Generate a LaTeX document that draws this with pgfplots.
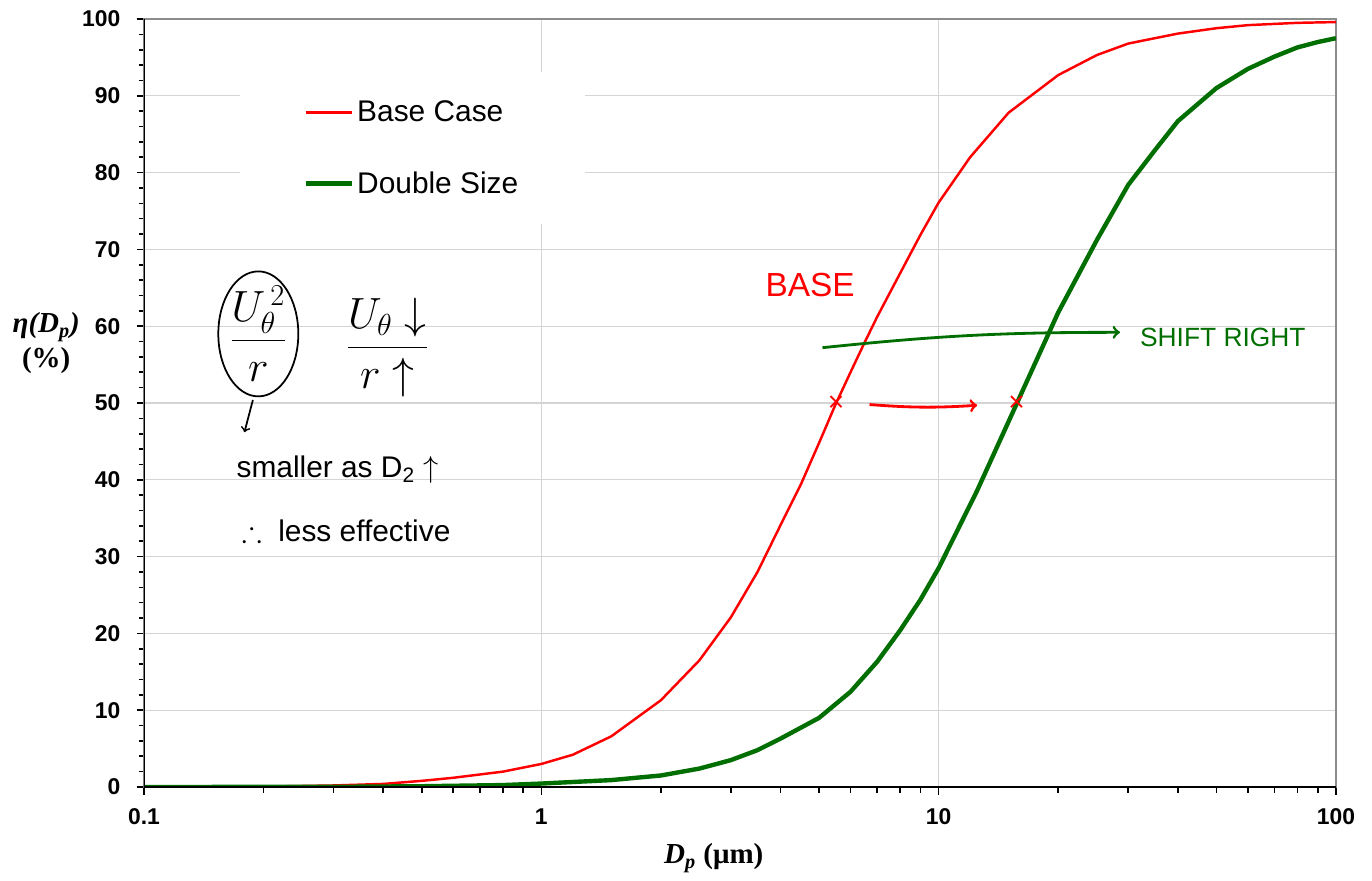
\documentclass[border=0pt]{standalone}
\usepackage{amssymb}
\usepackage{fontspec}
\setmainfont{Liberation Sans}
\newfontfamily\serif{Liberation Serif}
\usepackage{pgfplots}
\pgfplotsset{compat=1.18}
\definecolor{dgreen}{RGB}{0,110,0}
\definecolor{gridgray}{RGB}{212,212,212}
\definecolor{framegray}{RGB}{140,140,140}

\begin{document}
\begin{tikzpicture}
\useasboundingbox (-2.88,-1.86) rectangle (24.56,15.74);
\begin{axis}[
  at={(0,0)}, anchor=south west, scale only axis,
  width=23.84cm, height=15.36cm,
  xmode=log, xmin=0.1, xmax=100, ymin=0, ymax=100,
  xtick={0.1,1,10,100}, xticklabels={0.1,1,10,100},
  ytick={0,10,...,100}, minor y tick num=4,
  tick align=outside, tick pos=left,
  major tick length=0.15cm, minor tick length=0.11cm,
  every tick/.style={black, line width=0.9pt},
  grid=major, major grid style={gridgray, line width=0.7pt},
  axis line style={framegray, line width=1.6pt},
  ticklabel style={font=\fontsize{13}{15}\selectfont\bfseries},
  /pgf/number format/assume math mode=true,
  yticklabel style={xshift=-0.2cm},
  xticklabel style={yshift=-0.16cm},
  xlabel={\serif\bfseries\itshape D\textsubscript{p}\upshape\ (μm)},
  xlabel style={font=\fontsize{16.5}{18}\selectfont, at={(axis description cs:0.478,-0.0924)}, anchor=center},
  ylabel={\serif\bfseries\itshape η(D\textsubscript{p})\upshape\\\serif\bfseries (\%)},
  ylabel style={font=\fontsize{16.5}{20}\selectfont, rotate=-90, align=center, at={(axis description cs:-0.082,0.578)}, anchor=center},
  legend style={at={(0.0805,0.931)}, anchor=north west, draw=none, fill=white,
    inner xsep=1.26cm, inner ysep=0.5cm, row sep=0.8cm,
    font=\fontsize{17}{20}\selectfont},
  legend cell align=left,
  legend image code/.code={\draw[#1] (0cm,0cm) -- (0.92cm,0cm);},
]
\addplot[red, line width=1.4pt] coordinates {
 (0.1,0) (0.2,0.05) (0.3,0.2) (0.4,0.4) (0.5,0.8) (0.6,1.2) (0.8,2.0)
 (1,3.0) (1.2,4.2) (1.5,6.6) (2,11.3) (2.5,16.5) (3,22.1) (3.5,28.0)
 (4,34.1) (4.5,39.4) (5,44.8) (5.5,49.8) (6,54.0) (6.5,57.8) (7,61.2)
 (8,66.9) (9,71.9) (10,76.1) (12,82.0) (15,87.8) (20,92.7) (25,95.3)
 (30,96.8) (35,97.5) (40,98.1) (50,98.8) (60,99.2) (80,99.5) (100,99.6)};
\addlegendentry{Base Case}
\addplot[dgreen, line width=2.5pt] coordinates {
 (0.1,0) (0.3,0.02) (0.5,0.1) (0.8,0.25) (1,0.45) (1.5,0.9) (2,1.5)
 (2.5,2.4) (3,3.5) (3.5,4.8) (4,6.3) (5,9.0) (6,12.4) (7,16.3) (8,20.4)
 (9,24.4) (10,28.5) (12.5,38.6) (15,47.6) (20,61.8) (25,71.2) (30,78.4)
 (35,82.9) (40,86.7) (50,91.0) (60,93.5) (70,95.1) (80,96.3) (90,97.0) (100,97.5)};
\addlegendentry{Double Size}
% black left and bottom axis lines
\draw[black, line width=1.2pt] (rel axis cs:0,1) -- (rel axis cs:0,0) -- (rel axis cs:1,0);
% handwritten notes
\node[red, font=\fontsize{19}{22}\selectfont] at (axis cs:4.75,65.3) {BASE};
\draw[dgreen, line width=1.6pt, ->] (axis cs:5.1,57.2) to[bend left=3] (axis cs:28.6,59.2);
\node[dgreen, font=\fontsize{15}{18}\selectfont, anchor=west] at (axis cs:31,58.6) {SHIFT RIGHT};
\node[red, font=\fontsize{16}{16}\selectfont] at (axis cs:5.52,49.9) {×};
\node[red, font=\fontsize{16}{16}\selectfont] at (axis cs:15.7,49.9) {×};
\draw[red, line width=1.6pt, ->] (axis cs:6.7,49.8) to[bend right=4] (axis cs:12.5,49.7);
\node[font=\fontsize{24}{26}\selectfont] (f1) at (axis cs:0.194,59.0) {$\displaystyle\frac{U_\theta^{\,2}}{r}$};
\draw[line width=1pt] (f1.center) ellipse [x radius=0.8cm, y radius=1.25cm];
\node[font=\fontsize{24}{26}\selectfont] at (axis cs:0.41,57.2) {$\displaystyle\frac{U_\theta\downarrow}{r\uparrow}$};
\draw[line width=1pt, ->] (axis cs:0.188,50.4) -- (axis cs:0.179,46.2);
\node[anchor=west, font=\fontsize{17}{20}\selectfont] at (axis cs:0.165,41.3) {smaller as D\textsubscript{2} $\uparrow$};
\node[anchor=west, font=\fontsize{17}{20}\selectfont] at (axis cs:0.17,33.3) {$\therefore$\ \ less effective};
\end{axis}
\end{tikzpicture}
\end{document}
